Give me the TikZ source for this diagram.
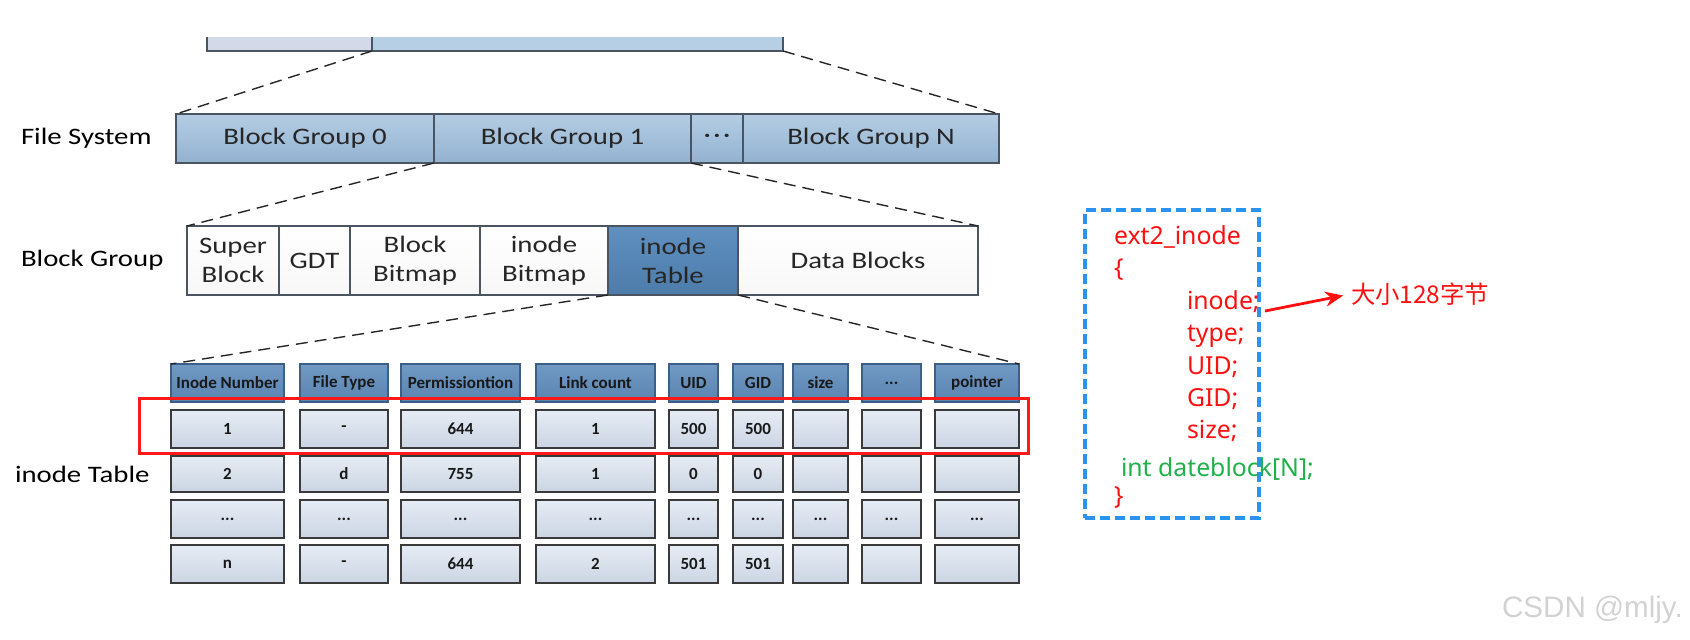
\documentclass[tikz,border=0pt]{standalone}
\usepackage{fontspec}
\usetikzlibrary{arrows.meta}
\newfontfamily\fsMain[FakeStretch=1.22]{Carlito}
\newfontfamily\fsTab{Carlito}
\newfontfamily\fsNoto{Noto Sans}
\newfontfamily\fsCJK{Noto Sans CJK SC}
\newfontfamily\fsWm{Liberation Sans}
\definecolor{fsTop}{HTML}{B4CDE4}
\definecolor{fsBot}{HTML}{93B2D0}
\definecolor{fsLine}{HTML}{4A5561}
\definecolor{tbL}{HTML}{D3D9E9}
\definecolor{tbR}{HTML}{B7CFE5}
\definecolor{itTop}{HTML}{5F90C0}
\definecolor{itBot}{HTML}{4D7CAA}
\definecolor{hdrTop}{HTML}{7099C4}
\definecolor{hdrBot}{HTML}{5A84B0}
\definecolor{hdrLine}{HTML}{3D5F85}
\definecolor{cellTop}{HTML}{E6ECF5}
\definecolor{cellBot}{HTML}{CBD5E3}
\definecolor{cellLine}{HTML}{3A3A3A}
\definecolor{codeRed}{HTML}{FF1010}
\definecolor{codeGreen}{HTML}{1FB14A}
\definecolor{boxBlue}{HTML}{2B93EE}
\definecolor{selRed}{HTML}{FF1A1A}
\newcommand\tdots{...}
\newcommand\mkbox[7]{%
  \pgfmathsetmacro\bxcx{(#2+#4)/2}%
  \pgfmathsetmacro\bxcy{(#3+#5)/2}%
  \pgfmathsetmacro\bxw{(#4-#2)*0.5}%
  \pgfmathsetmacro\bxh{(#5-#3)*0.5}%
  \node[#6,minimum width=\bxw pt,minimum height=\bxh pt] (#1) at (\bxcx,\bxcy) {#7};}
\tikzset{
  base/.style={inner sep=0pt, outer sep=0pt},
  mainfont/.style={font=\fsMain\fontsize{11.8}{14.5}\selectfont},
  tbfill/.style={base, fill=#1},
  tbline/.style={draw=fsLine, line width=1pt},
  fsbox/.style={base, mainfont, draw=fsLine, line width=1pt, top color=fsTop, bottom color=fsBot, text=black!85},
  bgbox/.style={base, mainfont, align=center, draw=fsLine, line width=1pt, top color=white, bottom color=gray!6, text=black!85},
  itbox/.style={bgbox, top color=itTop, bottom color=itBot},
  hdr/.style={base, draw=hdrLine, line width=0.8pt, top color=hdrTop, bottom color=hdrBot, text=black!90, font=\fsTab\bfseries\fontsize{8.5}{10}\selectfont},
  cellbox/.style={base, draw=cellLine, line width=0.9pt, top color=cellTop, bottom color=cellBot, text=black!90, font=\fsTab\bfseries\fontsize{8.5}{10}\selectfont},
  zoomline/.style={black!85, line width=0.7pt, dash pattern=on 6pt off 3.5pt},
  lbl/.style={base, anchor=west, mainfont},
  selframe/.style={base, draw=selRed, line width=1.5pt},
  blueframe/.style={base, draw=boxBlue, line width=1.6pt, dash pattern=on 5pt off 2.5pt},
  code/.style={base, anchor=base west, font=\fsNoto\fontsize{12.4}{15}\selectfont, text=codeRed},
}
\begin{document}
\begin{tikzpicture}[x=0.5pt,y=-0.5pt]
\useasboundingbox (0,0) rectangle (1690,640);
% top bar (cut off)
\mkbox{tb1}{207}{37}{372}{51}{tbfill=tbL}{}
\mkbox{tb2}{372}{37}{783}{51}{tbfill=tbR}{}
\draw[tbline] (tb1.north west) -- (tb1.south west) -- (tb2.south east) -- (tb2.north east);
\draw[tbline] (tb2.north west) -- (tb2.south west);
% file system
\node[lbl] (lfs) at (21,138) {File System};
\mkbox{fs0}{176}{114}{434}{163}{fsbox}{Block Group 0}
\mkbox{fs1}{434}{114}{691}{163}{fsbox}{Block Group 1}
\mkbox{fsd}{691}{114}{743}{163}{fsbox}{·\kern1.3pt·\kern1.3pt·}
\mkbox{fsN}{743}{114}{999}{163}{fsbox}{Block Group N}
\draw[zoomline] (tb2.south west) -- (fs0.north west);
\draw[zoomline] (tb2.south east) -- (fsN.north east);
% block group
\node[lbl] (lbg) at (21,260) {Block Group};
\mkbox{sb}{187}{226}{279}{295}{bgbox}{Super\\Block}
\mkbox{gdt}{279}{226}{350}{295}{bgbox}{GDT}
\mkbox{bb}{350}{226}{480}{295}{bgbox}{Block\\Bitmap}
\mkbox{ib}{480}{226}{608}{295}{bgbox}{inode\\Bitmap}
\mkbox{it}{608}{226}{738}{295}{itbox}{inode\\Table}
\mkbox{db}{738}{226}{978}{295}{bgbox}{Data Blocks}
\draw[zoomline] (fs1.south west) -- (sb.north west);
\draw[zoomline] (fs1.south east) -- (db.north east);
% inode table
\node[lbl] (lit) at (15,474) {inode Table};
\foreach \l/\r/\h/\a/\b/\c/\d [count=\i] in {
  171/284/Inode Number/1/2/\tdots/n,
  300/388/File Type/-/d/\tdots/-,
  401/520/Permissiontion/644/755/\tdots/644,
  536/655/Link count/1/1/\tdots/2,
  669/718/UID/500/0/\tdots/501,
  733/783/GID/500/0/\tdots/501,
  793/848/size///\tdots/,
  862/921/\tdots///\tdots/,
  935/1019/pointer///\tdots/}{
  \mkbox{h\i}{\l}{364}{\r}{402}{hdr}{\h}
  \mkbox{ra\i}{\l}{410}{\r}{448}{cellbox}{\a}
  \mkbox{rb\i}{\l}{456}{\r}{492}{cellbox}{\b}
  \mkbox{rc\i}{\l}{500}{\r}{538}{cellbox}{\c}
  \mkbox{rd\i}{\l}{545}{\r}{583}{cellbox}{\d}
}
\draw[zoomline] (it.south west) -- (h1.north west);
\draw[zoomline] (it.south east) -- (h9.north east);
\mkbox{sel}{139}{399}{1028}{454}{selframe}{}
% struct box
\mkbox{sbox}{1085}{210}{1259}{518}{blueframe}{}
\node[code] (c0) at (1114,245) {ext2\_inode};
\node[code] (c1) at (1114,277) {\{};
\node[code] (in1) at (1187,310) {inode;};
\node[code] (c3) at (1187,342) {type;};
\node[code] (c4) at (1187,375) {UID;};
\node[code] (c5) at (1187,407) {GID;};
\node[code] (c6) at (1187,439) {size;};
\node[code, text=codeGreen] (c7) at (1121,477) {int dateblock[N];};
\node[code] (c8) at (1114,504) {\}};
\node[base, anchor=west, font=\fsCJK\fontsize{12.2}{14}\selectfont, text=codeRed] (cn) at (1351,294) {大小128字节};
\coordinate (ar0) at (1265,311);
\draw[codeRed, line width=1.4pt, -{Stealth[length=9pt,width=7.5pt]}, shorten >=4pt] (ar0) -- (cn.west);
% watermark
\node[base, anchor=west, font=\fsWm\fontsize{14.8}{16}\selectfont, text=gray!35] (wm) at (1502,610) {CSDN @mljy.};
\end{tikzpicture}
\end{document}
